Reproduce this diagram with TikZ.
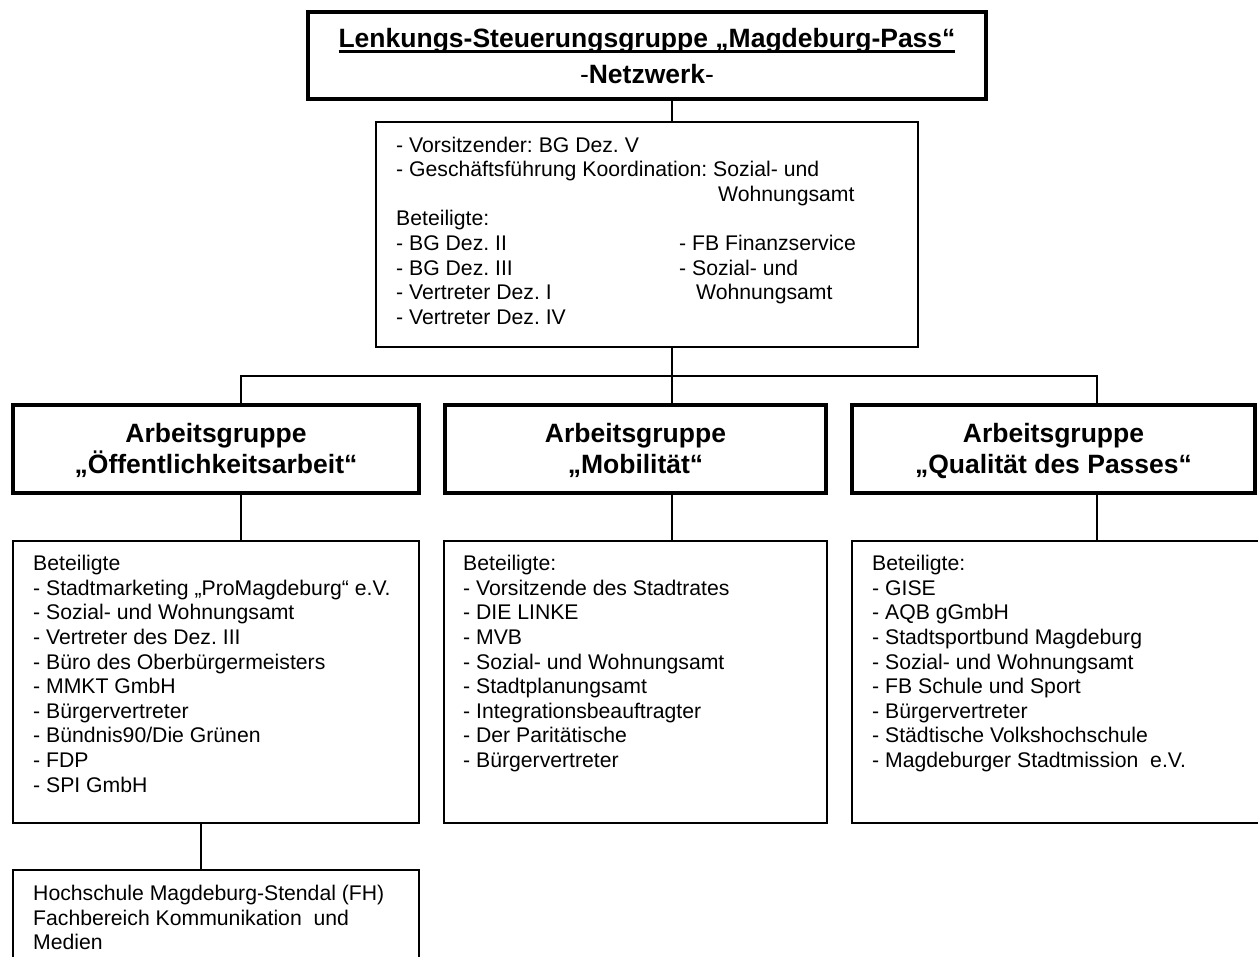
\documentclass[tikz,border=0pt]{standalone}
\usepackage{fontspec}
\setmainfont{Liberation Sans}
\frenchspacing
\newcommand{\ulbox}[1]{\setbox0\hbox{#1}\rlap{\rule[-5.6pt]{\wd0}{2.3pt}}\box0}
\newcommand{\leftlines}[1]{\begin{tabular}[t]{@{}l@{}}#1\end{tabular}}
\newcommand{\midlines}[1]{\begin{tabular}[t]{@{}c@{}}#1\end{tabular}}
\begin{document}
\begin{tikzpicture}[x=1pt,y=-1pt,
  thickbox/.style={draw, line width=3.6pt, rectangle, inner sep=0pt},
  thinbox/.style={draw, line width=1.8pt, rectangle, inner sep=0pt},
  link/.style={line width=1.6pt},
  body/.style={font=\fontsize{21.2}{24.6}\selectfont, inner sep=0pt, anchor=base west},
  head/.style={font=\bfseries\fontsize{26.5}{31}\selectfont, inner sep=0pt, anchor=base},
]
\useasboundingbox[fill=white] (0,0) rectangle (1258,956);

% boxes
\node[thickbox, minimum width=678, minimum height=87] (top) at (647,55.5) {};
\node[thinbox, minimum width=542, minimum height=225] (net) at (647,234.5) {};
\node[thickbox, minimum width=406.4, minimum height=88] (AG1) at (216,449) {};
\node[thickbox, minimum width=381.4, minimum height=88] (AG2) at (635.5,449) {};
\node[thickbox, minimum width=403.4, minimum height=88] (AG3) at (1053.5,449) {};
\node[thinbox, minimum width=406.2, minimum height=282.2] (B1) at (216,682) {};
\node[thinbox, minimum width=383.2, minimum height=282.2] (B2) at (635.5,682) {};
\node[thinbox, minimum width=410, minimum height=282.2] (B3) at (1057,682) {};
\node[thinbox, minimum width=406.2, minimum height=120] (H) at (216,930) {};

% connectors
\coordinate (busL) at (241,376);
\coordinate (busM) at (672,376);
\coordinate (busR) at (1097,376);
\coordinate (hx) at (201,0);
\draw[link] (top.south -| busM) -- (net.north -| busM);
\draw[link] (net.south -| busM) -- (busM);
\draw[link] (AG1.north -| busL) -- (busL) -- (busR) -- (AG3.north -| busR);
\draw[link] (busM) -- (AG2.north -| busM);
\draw[link] (AG1.south -| busL) -- (B1.north -| busL);
\draw[link] (AG2.south -| busM) -- (B2.north -| busM);
\draw[link] (AG3.south -| busR) -- (B3.north -| busR);
\draw[link] (B1.south -| hx) -- (H.north -| hx);

% texts
\node[head, font=\bfseries\fontsize{26.5}{36}\selectfont] (toptext) at (647,47)
  {\midlines{\ulbox{Lenkungs-Steuerungsgruppe „Magdeburg-Pass“}\\{\mdseries -}Netzwerk{\mdseries -}}};

\node[body] (nettext) at (396,152) {\leftlines{%
- Vorsitzender: BG Dez. V\\
- Geschäftsführung Koordination: Sozial- und\\
\hspace*{322pt}Wohnungsamt\\
Beteiligte:\\
\makebox[283pt][l]{- BG Dez. II}- FB Finanzservice\\
\makebox[283pt][l]{- BG Dez. III}- Sozial- und\\
\makebox[300pt][l]{- Vertreter Dez. I}Wohnungsamt\\
- Vertreter Dez. IV}};

\node[head] (ag1text) at (216,442) {\midlines{Arbeitsgruppe\\„Öffentlichkeitsarbeit“}};
\node[head] (ag2text) at (635.5,442) {\midlines{Arbeitsgruppe\\„Mobilität“}};
\node[head] (ag3text) at (1053.5,442) {\midlines{Arbeitsgruppe\\„Qualität des Passes“}};

\node[body] (b1text) at (33,570.7) {\leftlines{%
Beteiligte\\
- Stadtmarketing „ProMagdeburg“ e.V.\\
- Sozial- und Wohnungsamt\\
- Vertreter des Dez. III\\
- Büro des Oberbürgermeisters\\
- MMKT GmbH\\
- Bürgervertreter\\
- Bündnis90/Die Grünen\\
- FDP\\
- SPI GmbH}};

\node[body] (b2text) at (463,570.7) {\leftlines{%
Beteiligte:\\
- Vorsitzende des Stadtrates\\
- DIE LINKE\\
- MVB\\
- Sozial- und Wohnungsamt\\
- Stadtplanungsamt\\
- Integrationsbeauftragter\\
- Der Paritätische\\
- Bürgervertreter}};

\node[body] (b3text) at (872,570.7) {\leftlines{%
Beteiligte:\\
- GISE\\
- AQB gGmbH\\
- Stadtsportbund Magdeburg\\
- Sozial- und Wohnungsamt\\
- FB Schule und Sport\\
- Bürgervertreter\\
- Städtische Volkshochschule\\
- Magdeburger Stadtmission\ \ e.V.}};

\node[body] (htext) at (33,900.7) {\leftlines{%
Hochschule Magdeburg-Stendal (FH)\\
Fachbereich Kommunikation\ \ und\\
Medien}};
\end{tikzpicture}
\end{document}
